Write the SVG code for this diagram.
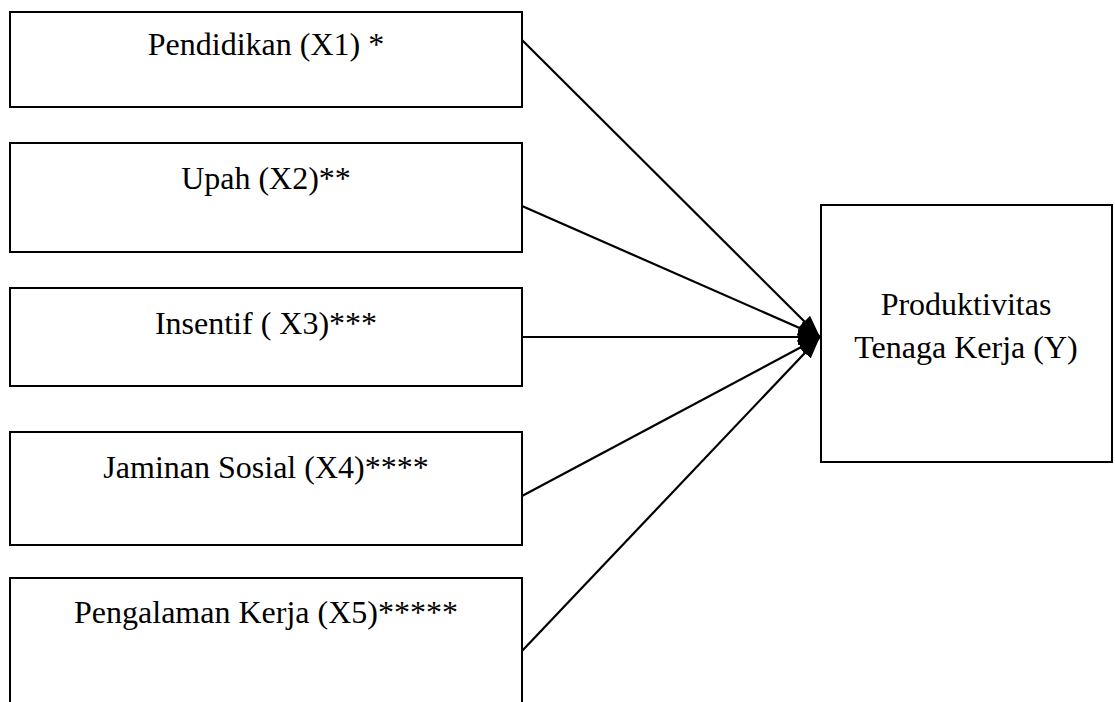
<svg xmlns="http://www.w3.org/2000/svg" width="1115" height="702" viewBox="0 0 1115 702">
<style>
.box{fill:#fff;stroke:#000;stroke-width:2}
.lbl{font-family:"Liberation Serif","Times New Roman",serif;font-size:32px;fill:#000;text-anchor:middle}
.conn{stroke:#000;stroke-width:2.2;fill:none;marker-end:url(#ah)}
</style>
<defs>
<marker id="ah" markerUnits="userSpaceOnUse" markerWidth="24" markerHeight="18" refX="22" refY="9" orient="auto">
<path d="M0,1 L22,9 L0,17 Z" fill="#000"/>
</marker>
</defs>
<rect width="1115" height="702" fill="#fff"/>
<g id="x1"><rect class="box" x="10" y="12" width="512" height="95"/><text class="lbl" x="266" y="55">Pendidikan (X1) *</text></g>
<g id="x2"><rect class="box" x="10" y="143" width="512" height="109"/><text class="lbl" x="266" y="189">Upah (X2)**</text></g>
<g id="x3"><rect class="box" x="10" y="288" width="512" height="98"/><text class="lbl" x="266" y="334">Insentif ( X3)***</text></g>
<g id="x4"><rect class="box" x="10" y="432" width="512" height="113"/><text class="lbl" x="266" y="478">Jaminan Sosial (X4)****</text></g>
<g id="x5"><rect class="box" x="10" y="578" width="512" height="130"/><text class="lbl" x="266" y="623">Pengalaman Kerja (X5)*****</text></g>
<g id="y"><rect class="box" x="821" y="205" width="291" height="257"/><text class="lbl" x="966" y="315">Produktivitas</text><text class="lbl" x="966" y="358">Tenaga Kerja (Y)</text></g>
<g id="connectors">
<line class="conn" x1="522" y1="40" x2="820" y2="337"/>
<line class="conn" x1="522" y1="206" x2="820" y2="337"/>
<line class="conn" x1="522" y1="337" x2="820" y2="337"/>
<line class="conn" x1="522" y1="496" x2="820" y2="337"/>
<line class="conn" x1="522" y1="651" x2="820" y2="337"/>
</g>
</svg>
